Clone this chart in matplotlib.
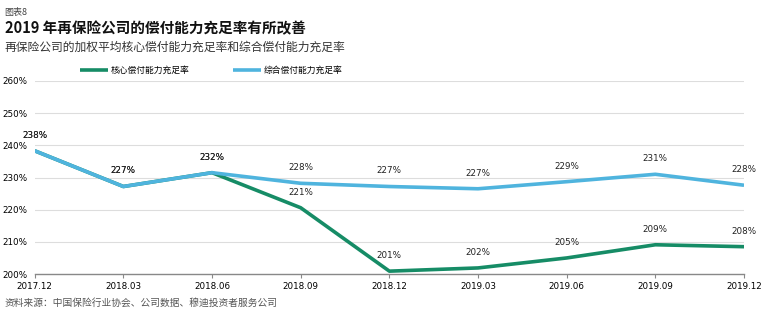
import matplotlib.pyplot as plt

plt.rcParams['font.family'] = ['Noto Sans CJK SC', 'DejaVu Sans']

periods = ['2017.12', '2018.03', '2018.06', '2018.09', '2018.12',
           '2019.03', '2019.06', '2019.09', '2019.12']
core = [238.3, 227.2, 231.5, 220.6, 200.9, 201.9, 205.0, 209.1, 208.5]
comp = [238.3, 227.2, 231.5, 228.2, 227.2, 226.5, 228.7, 231.0, 227.6]
core_labels = ['238%', '227%', '232%', '221%', '201%', '202%', '205%', '209%', '208%']
comp_labels = ['238%', '227%', '232%', '228%', '227%', '227%', '229%', '231%', '228%']

green = '#168c66'
blue = '#4fb4de'

fig = plt.figure(figsize=(7.71, 3.15), dpi=100)
ax = fig.add_axes([0.045, 0.130, 0.920, 0.613])

x = range(len(periods))
ax.plot(x, core, color=green, lw=2.6, solid_capstyle='butt', zorder=3, label='核心偿付能力充足率')
ax.plot(x, comp, color=blue, lw=2.6, solid_capstyle='butt', zorder=4, label='综合偿付能力充足率')

for i in x:
    ax.annotate(comp_labels[i], (i, comp[i]), xytext=(0, 8), textcoords='offset points',
                ha='center', va='bottom', fontsize=6.3, color='#222222', family='DejaVu Sans')
    ax.annotate(core_labels[i], (i, core[i]), xytext=(0, 8), textcoords='offset points',
                ha='center', va='bottom', fontsize=6.3, color='#222222', family='DejaVu Sans')

ax.set_xlim(0, len(periods) - 1)
ax.set_ylim(200, 260)
ax.set_yticks(range(200, 261, 10))
ax.set_yticklabels([f'{v}%' for v in range(200, 261, 10)], fontsize=6.3, family='DejaVu Sans')
ax.set_xticks(list(x))
ax.set_xticklabels(periods, fontsize=6.3, family='DejaVu Sans')
ax.tick_params(axis='y', length=0, pad=5)
ax.tick_params(axis='x', length=3, color='#888888', pad=3)
ax.grid(axis='y', color='#dddddd', lw=0.8)
ax.set_axisbelow(True)
for s in ['top', 'right', 'left']:
    ax.spines[s].set_visible(False)
ax.spines['bottom'].set_color('#888888')
ax.spines['bottom'].set_linewidth(1.0)

ax.legend(loc='lower left', bbox_to_anchor=(0.055, 1.0), ncol=2, frameon=False,
          fontsize=6.3, handlelength=3.2, columnspacing=5.0, handletextpad=0.3,
          borderaxespad=0.3)

fig.text(0.006, 0.975, '图表8', fontsize=6.5, color='#444444', va='top')
fig.text(0.006, 0.935, '2019 年再保险公司的偿付能力充足率有所改善', fontsize=10.5,
         fontweight='bold', color='#111111', va='top')
fig.text(0.006, 0.872, '再保险公司的加权平均核心偿付能力充足率和综合偿付能力充足率', fontsize=8.5,
         color='#333333', va='top')
fig.text(0.006, 0.038, '资料来源：中国保险行业协会、公司数据、穆迪投资者服务公司', fontsize=7,
         color='#555555', style='italic', va='center')

fig.savefig('out.png', dpi=100)
